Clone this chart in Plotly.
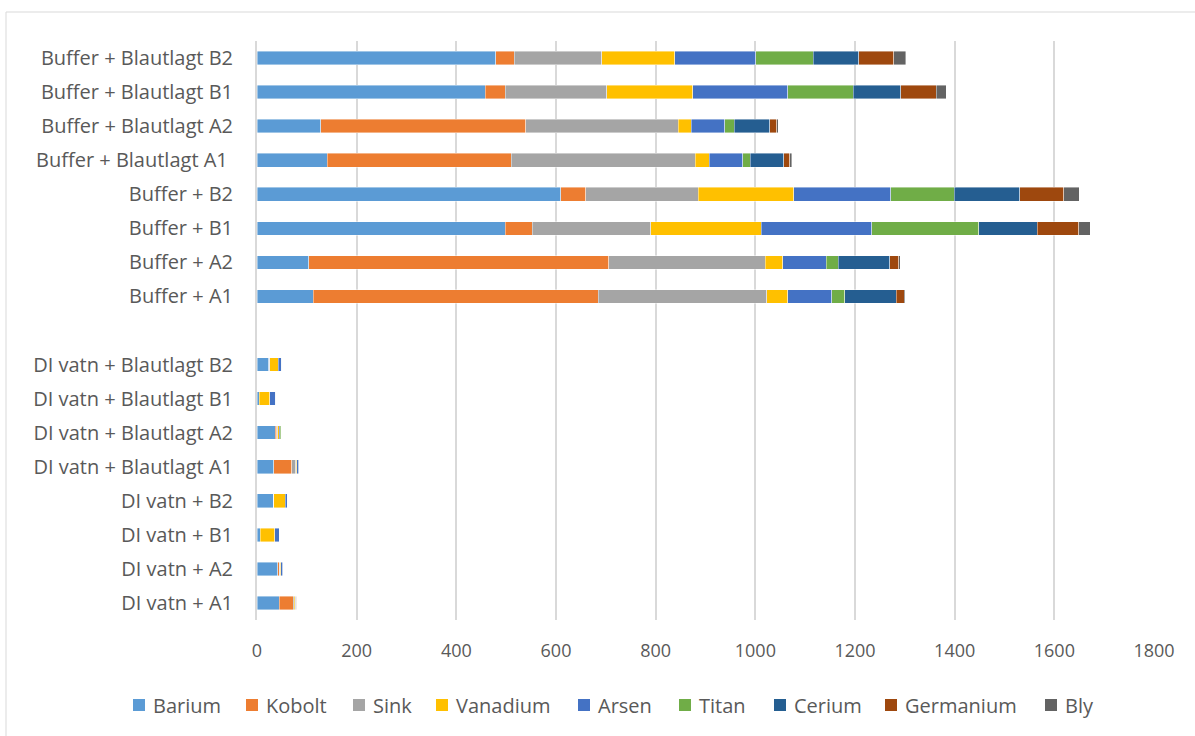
import plotly.graph_objects as go

categories = [
    "DI vatn + A1", "DI vatn + A2", "DI vatn + B1", "DI vatn + B2",
    "DI vatn + Blautlagt A1", "DI vatn + Blautlagt A2", "DI vatn + Blautlagt B1", "DI vatn + Blautlagt B2",
    " ",
    "Buffer + A1", "Buffer + A2", "Buffer + B1", "Buffer + B2",
    "Buffer + Blautlagt A1\u00a0", "Buffer + Blautlagt A2", "Buffer + Blautlagt B1", "Buffer + Blautlagt B2",
]

barium    = [45, 42, 7, 34, 34, 37, 5, 24, None, 113, 104, 498, 610, 141, 128, 458, 479]
kobolt    = [28, 3, 0, 0, 36, 3, 0, 0.5, None, 572, 602, 54, 50, 369, 411, 40, 37]
sink      = [2, 1, 0, 0, 8, 2, 0, 1, None, 338, 314, 238, 225, 369, 306, 204, 176]
vanadium  = [2, 2, 29, 23, 2, 3, 21, 17, None, 42, 35, 222, 192, 29, 26, 172, 146]
arsen     = [1, 4, 9, 4, 4, 2, 11, 6, None, 88, 87, 222, 195, 67, 68, 191, 163]
titan     = [1, 1, 0, 1, 1, 2, 0, 0.5, None, 26, 24, 214, 127, 15, 19, 131, 115]
cerium    = [0, 0, 0, 0, 0, 0, 1, 0.5, None, 104, 104, 118, 132, 67, 71, 96, 92]
germanium = [1, 0, 0, 0, 0, 0, 0, 0, None, 16, 18, 83, 88, 12, 14, 71, 70]
bly       = [0, 0, 0, 0, 0, 0, 0, 0, None, 2, 3, 23, 31, 4, 3, 20, 24]

series_names = ["Barium", "Kobolt", "Sink", "Vanadium", "Arsen", "Titan", "Cerium", "Germanium", "Bly"]
series_values = [barium, kobolt, sink, vanadium, arsen, titan, cerium, germanium, bly]
series_colors = ["#5B9BD5", "#ED7D31", "#A5A5A5", "#FFC000", "#4472C4",
                 "#70AD47", "#255E91", "#9E480E", "#636363"]

# legend entry positions (pixels, left edge of swatch)
legend_px = [133, 246, 353, 436, 578, 679, 774, 885, 1045]

W, H = 1195, 736
L, R, T, B = 257, 41, 41, 116
PW, PH = W - L - R, H - T - B


def px_x(p):
    return (p - L) / PW


def px_y(p):
    return (H - B - p) / PH


FONT = "Open Sans"
TXT = "#595959"
fig = go.Figure()
for name, vals, col in zip(series_names, series_values, series_colors):
    fig.add_trace(go.Bar(
        y=categories, x=vals, name=name, orientation="h", showlegend=False,
        marker=dict(color=col, line=dict(color="rgba(255,255,255,0.6)", width=0.7)),
    ))

shapes = [dict(type="rect", xref="paper", yref="paper",
               x0=px_x(6), x1=px_x(W + 20), y0=px_y(H + 20), y1=px_y(12),
               line=dict(color="#D9D9D9", width=1), fillcolor="rgba(0,0,0,0)", layer="below")]
annotations = []
LY = 705
for name, col, lx in zip(series_names, series_colors, legend_px):
    shapes.append(dict(type="rect", xref="paper", yref="paper",
                       x0=px_x(lx), x1=px_x(lx + 12), y0=px_y(LY + 6), y1=px_y(LY - 6),
                       line=dict(width=0), fillcolor=col))
    annotations.append(dict(text=name, xref="paper", yref="paper", x=px_x(lx + 18), y=px_y(LY),
                            xanchor="left", yanchor="middle", showarrow=False,
                            font=dict(family=FONT, size=20, color=TXT)))

fig.update_layout(
    width=W, height=H,
    barmode="stack", bargap=0.6,
    paper_bgcolor="white", plot_bgcolor="white",
    margin=dict(l=L, r=R, t=T, b=B),
    font=dict(family=FONT, size=19, color=TXT),
    showlegend=False,
    xaxis=dict(range=[0, 1800], dtick=200, showgrid=True, gridcolor="#D9D9D9", gridwidth=1.5,
               zeroline=False, showline=False, ticks="", ticklabelstandoff=18,
               tickfont=dict(size=18, color=TXT)),
    yaxis=dict(type="category", categoryorder="array", categoryarray=categories,
               showline=True, linecolor="#D9D9D9", linewidth=2, ticks="",
               ticklabelstandoff=18, showgrid=False,
               tickfont=dict(size=20, color=TXT)),
    shapes=shapes,
    annotations=annotations,
)

fig.write_html("out.html", config={"displayModeBar": False},
               post_script="document.body.style.margin='0';document.body.style.overflow='hidden';")
